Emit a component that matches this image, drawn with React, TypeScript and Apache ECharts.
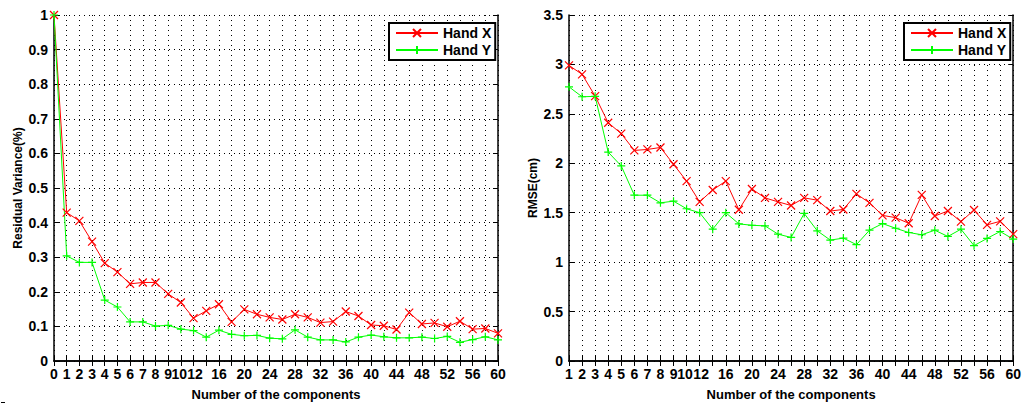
import React, { useEffect, useRef } from "react";
import * as echarts from "echarts";

const leftCategories = ["0","1","2","3","4","5","6","7","8","9","10","12","14","16","18","20","22","24","26","28","30","32","34","36","38","40","42","44","46","48","50","52","54","56","58","60"];
const rightCategories = leftCategories.slice(1);

const leftHandX = [1.0,0.429,0.405,0.345,0.283,0.257,0.223,0.227,0.227,0.194,0.169,0.124,0.145,0.164,0.113,0.149,0.135,0.126,0.12,0.135,0.126,0.111,0.114,0.143,0.13,0.104,0.102,0.091,0.14,0.107,0.11,0.099,0.115,0.092,0.094,0.08];
const leftHandY = [1.0,0.304,0.285,0.285,0.176,0.156,0.113,0.113,0.101,0.103,0.092,0.088,0.069,0.089,0.077,0.073,0.074,0.066,0.064,0.09,0.069,0.061,0.061,0.055,0.069,0.075,0.07,0.067,0.067,0.069,0.065,0.071,0.054,0.062,0.07,0.061];
const rightHandX = [2.99,2.9,2.68,2.41,2.3,2.13,2.14,2.16,1.99,1.82,1.61,1.73,1.82,1.53,1.74,1.65,1.61,1.573,1.65,1.627,1.517,1.533,1.69,1.6,1.473,1.45,1.393,1.68,1.467,1.517,1.41,1.527,1.377,1.413,1.283];
const rightHandY = [2.773,2.673,2.677,2.113,1.973,1.677,1.677,1.6,1.617,1.54,1.5,1.333,1.5,1.387,1.373,1.367,1.283,1.25,1.493,1.317,1.223,1.243,1.177,1.323,1.39,1.343,1.3,1.277,1.323,1.26,1.333,1.167,1.24,1.31,1.233];

const crossSymbol = "path://M0,0L10,10M10,0L0,10";
const plusSymbol = "path://M5,0L5,10M0,5L10,5";
const FONT = "Liberation Sans, Arial, sans-serif";

function labelShown(cats: string[]) {
  return (idx: number) => {
    const v = Number(cats[idx]);
    return v <= 12 || (v - 12) % 4 === 0;
  };
}

function labelFormatter(value: string) {
  if (value === "10") return "{l|10}";
  if (value === "12") return "{r|12}";
  return value;
}

export default function App() {
  const ref = useRef<HTMLDivElement>(null);
  useEffect(() => {
    if (!ref.current) return;
    const chart = echarts.init(ref.current, undefined, { renderer: "svg" });
    const tickLabel = { color: "#000", fontSize: 14, fontWeight: "bold" as const, fontFamily: FONT };
    const nameStyle = { color: "#000", fontSize: 13, fontWeight: "bold" as const, fontFamily: FONT };
    const yNameStyle = { ...nameStyle, fontSize: 12 };
    const axisLine = { show: true, lineStyle: { color: "#000", width: 1.5 } };
    const tickIn = { show: true, inside: true, length: 5, interval: 0, lineStyle: { color: "#000", width: 1 } };
    const dotted = { show: true, interval: 0, lineStyle: { color: "#000", type: [1, 4] as any, width: 1 } };

    const bottomX = (gridIndex: number, cats: string[]) => ({
      type: "category" as const,
      gridIndex,
      data: cats,
      boundaryGap: false,
      position: "bottom" as const,
      axisLine,
      axisTick: tickIn,
      splitLine: dotted,
      axisLabel: {
        ...tickLabel,
        interval: labelShown(cats),
        margin: 6,
        formatter: labelFormatter,
        rich: {
          l: { ...tickLabel, padding: [0, 3, 0, 0] },
          r: { ...tickLabel, padding: [0, 0, 0, 3] },
        },
      },
      name: "Number of the components",
      nameLocation: "middle" as const,
      nameGap: 27,
      nameTextStyle: nameStyle,
    });
    const topX = (gridIndex: number, cats: string[]) => ({
      type: "category" as const,
      gridIndex,
      data: cats,
      boundaryGap: false,
      position: "top" as const,
      axisLine,
      axisTick: tickIn,
      splitLine: { show: false },
      axisLabel: { show: false },
    });
    const leftY = (gridIndex: number, max: number, interval: number, name: string, nameGap: number) => ({
      type: "value" as const,
      gridIndex,
      min: 0,
      max,
      interval,
      position: "left" as const,
      axisLine,
      axisTick: { ...tickIn, interval: undefined },
      splitLine: dotted,
      axisLabel: { ...tickLabel, margin: 6 },
      name,
      nameLocation: "middle" as const,
      nameGap,
      nameTextStyle: yNameStyle,
    });
    const rightY = (gridIndex: number, max: number, interval: number) => ({
      type: "value" as const,
      gridIndex,
      min: 0,
      max,
      interval,
      position: "right" as const,
      axisLine,
      axisTick: { ...tickIn, interval: undefined },
      splitLine: { show: false },
      axisLabel: { show: false },
    });

    const mkSeries = (name: string, data: number[], xi: number, yi: number, color: string, symbol: string) => ({
      type: "line" as const,
      name,
      data,
      xAxisIndex: xi,
      yAxisIndex: yi,
      symbol,
      symbolSize: 8,
      showSymbol: true,
      lineStyle: { color, width: 1 },
      itemStyle: { color, borderColor: color, borderWidth: 1.2 },
      emphasis: { disabled: true },
    });

    const legendBase = {
      orient: "vertical" as const,
      top: 23,
      borderColor: "#000",
      borderWidth: 2,
      backgroundColor: "#fff",
      padding: [3, 4, 3, 6],
      itemGap: 3,
      itemWidth: 42,
      itemHeight: 10,
      textStyle: { color: "#000", fontSize: 14, fontWeight: "bold" as const, fontFamily: FONT },
      data: ["Hand X", "Hand Y"],
      selectedMode: false,
    };

    chart.setOption({
      animation: false,
      backgroundColor: "#fff",
      grid: [
        { left: 54, top: 15, width: 444, height: 352.6, containLabel: false },
        { left: 569, top: 15, width: 446, height: 352.6, containLabel: false },
      ],
      xAxis: [bottomX(0, leftCategories), topX(0, leftCategories), bottomX(1, rightCategories), topX(1, rightCategories)],
      yAxis: [
        leftY(0, 1, 0.1, "Residual Variance(%)", 30),
        rightY(0, 1, 0.1),
        leftY(1, 3.5, 0.5, "RMSE(cm)", 30),
        rightY(1, 3.5, 0.5),
      ],
      legend: [
        { ...legendBase, left: 389 },
        { ...legendBase, left: 904 },
      ],
      graphic: [
        { type: "rect", left: 1, top: 402, shape: { width: 4, height: 1 }, style: { fill: "#000" } },
      ],
      series: [
        mkSeries("Hand X", leftHandX, 0, 0, "#ff0000", crossSymbol),
        mkSeries("Hand Y", leftHandY, 0, 0, "#00ff00", plusSymbol),
        mkSeries("Hand X", rightHandX, 2, 2, "#ff0000", crossSymbol),
        mkSeries("Hand Y", rightHandY, 2, 2, "#00ff00", plusSymbol),
      ],
    });
    return () => chart.dispose();
  }, []);
  return <div ref={ref} style={{ position: "fixed", left: 0, top: 0, width: 1024, height: 406 }} />;
}
